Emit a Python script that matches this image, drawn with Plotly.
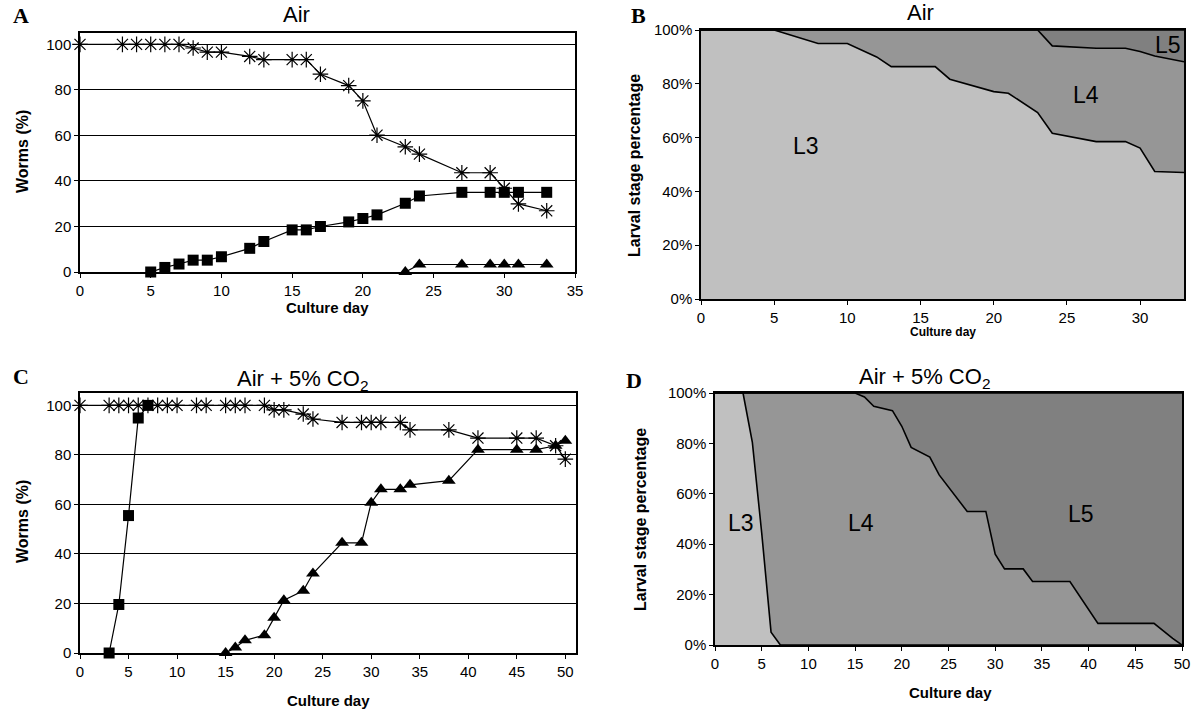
import plotly.graph_objects as go

W, H = 1197, 718

# ---------------- Panel A (Air) ----------------
a_days = [0, 3, 4, 5, 6, 7, 8, 9, 10, 12, 13, 15, 16, 17, 19, 20, 21, 23, 24, 27, 29, 30, 31, 33]
a_star = [100, 100, 100, 100, 100, 100, 98.4, 96.6, 96.6, 94.7, 93.3, 93.3, 93.3, 86.9, 81.9, 75.2,
          60.1, 55.0, 51.8, 43.6, 43.6, 36.8, 29.9, 26.9]
a_sq_days = [5, 6, 7, 8, 9, 10, 12, 13, 15, 16, 17, 19, 20, 21, 23, 24, 27, 29, 30, 31, 33]
a_sq = [0, 2, 3.5, 5.2, 5.2, 6.7, 10.4, 13.4, 18.5, 18.5, 20, 22, 23.5, 25.1, 30.2, 33.4, 35, 35, 35, 35, 35]
a_tri_days = [23, 24, 27, 29, 30, 31, 33]
a_tri = [0, 3.3, 3.3, 3.3, 3.3, 3.3, 3.3]

# ---------------- Panel B (Air, stacked %) ----------------
b_days = [0, 3, 4, 5, 6, 7, 8, 9, 10, 12, 13, 15, 16, 17, 19, 20, 21, 23, 24, 27, 29, 30, 31, 33]
b_l3 = [100, 100, 100, 100, 98.3, 96.7, 95, 95, 95, 90, 86.4, 86.4, 86.4, 81.7, 78.8, 77.1,
        76.5, 69.3, 61.6, 58.5, 58.5, 56.1, 47.4, 47.0]
b_l34 = [100, 100, 100, 100, 100, 100, 100, 100, 100, 100, 100, 100, 100, 100, 100, 100,
         100, 100, 94.1, 93.2, 93.2, 92.0, 90.3, 88.2]

# ---------------- Panel C (Air + 5% CO2) ----------------
c_star_days = [0, 3, 4, 5, 6, 7, 8, 9, 10, 12, 13, 15, 16, 17, 19, 20, 21, 23, 24, 27, 29, 30, 31,
               33, 34, 38, 41, 45, 47, 49, 50]
c_star = [100, 100, 100, 100, 100, 100, 100, 100, 100, 100, 100, 100, 100, 100, 100, 98.2, 98.2,
          96.5, 94.5, 93.1, 93.1, 93.1, 93.1, 93.1, 90.1, 90.1, 86.8, 86.8, 86.8, 83.7, 78.3]
c_sq_days = [3, 4, 5, 6, 7]
c_sq = [0, 19.6, 55.5, 94.9, 100]
c_tri_days = [15, 16, 17, 19, 20, 21, 23, 24, 27, 29, 30, 31, 33, 34, 38, 41, 45, 47, 49, 50]
c_tri = [0, 2.2, 5.1, 7.2, 14.2, 21.3, 25.1, 32.1, 44.5, 44.5, 60.7, 66.1, 66.1, 67.9, 69.6,
         82.1, 82.1, 82.1, 83.7, 85.7]

# ---------------- Panel D (Air + 5% CO2, stacked %) ----------------
d_days = [0, 3, 4, 5, 6, 7, 15, 16, 17, 19, 20, 21, 23, 24, 27, 29, 30, 31, 33, 34, 38, 41, 47, 49, 50]
d_l3 = [100, 100, 80.4, 44.5, 5.1, 0, 0, 0, 0, 0, 0, 0, 0, 0, 0, 0, 0, 0, 0, 0, 0, 0, 0, 0, 0]
d_l34 = [100, 100, 100, 100, 100, 100, 100, 98.4, 94.7, 93.0, 86.8, 78.4, 74.6, 67.5, 53, 53, 36,
         30.2, 30.2, 25.2, 25.2, 8.6, 8.6, 2.6, 0]

b_l4 = [u - l for u, l in zip(b_l34, b_l3)]
b_l5 = [100 - u for u in b_l34]
d_l4 = [u - l for u, l in zip(d_l34, d_l3)]
d_l5 = [100 - u for u in d_l34]

C_L3, C_L4, C_L5 = "#c0c0c0", "#969696", "#808080"
FONT = "Liberation Sans, Arial, sans-serif"
SERIF = "Liberation Serif, Times New Roman, serif"


def px_dom_x(a, b):
    return [a / W, b / W]


def px_dom_y(top, bottom):
    return [1 - bottom / H, 1 - top / H]


fig = go.Figure()


def add_line(x, y, symbol, size, xa, ya, lw=1.2):
    fig.add_trace(go.Scatter(
        x=x, y=y, mode="lines+markers", xaxis=xa, yaxis=ya, cliponaxis=False,
        line=dict(color="black", width=1.2),
        marker=dict(symbol=symbol, size=size, color="black",
                    line=dict(color="black", width=lw)),
        showlegend=False, hoverinfo="x+y"))


# Panel A
add_line(a_days, a_star, "asterisk-open", 13, "x", "y")
add_line(a_sq_days, a_sq, "square", 11, "x", "y", 0)
add_line(a_tri_days, a_tri, "triangle-up", 12, "x", "y", 0)

# Panel C
add_line(c_star_days, c_star, "asterisk-open", 13, "x3", "y3")
add_line(c_sq_days, c_sq, "square", 11, "x3", "y3", 0)
add_line(c_tri_days, c_tri, "triangle-up", 12, "x3", "y3", 0)


def add_stack(x, l3, l4, l5, xa, ya, grp):
    for vals, col, name in [(l3, C_L3, "L3"), (l4, C_L4, "L4"), (l5, C_L5, "L5")]:
        fig.add_trace(go.Scatter(
            x=x, y=vals, mode="lines", stackgroup=grp, xaxis=xa, yaxis=ya,
            fillcolor=col, line=dict(color="black", width=1.6),
            name=name, showlegend=False, hoverinfo="x+y"))


add_stack(b_days, b_l3, b_l4, b_l5, "x2", "y2", "b")
add_stack(d_days, d_l3, d_l4, d_l5, "x4", "y4", "d")

tickfont = dict(family=FONT, size=15, color="black")
axcommon = dict(showline=True, linecolor="black", linewidth=1.5, mirror=True,
                ticks="outside", ticklen=4, tickcolor="black", tickwidth=1,
                tickfont=tickfont, zeroline=False, automargin=False)

pct_vals = [0, 20, 40, 60, 80, 100]
pct_text = [f"{v}%" for v in pct_vals]

fig.update_layout(
    width=W, height=H, margin=dict(l=0, r=0, t=0, b=0, autoexpand=False),
    paper_bgcolor="white", plot_bgcolor="white",
    font=dict(family=FONT, color="black"),
    xaxis=dict(domain=px_dom_x(80, 575), range=[0, 35], tickvals=list(range(0, 36, 5)),
               showgrid=False, anchor="y", **axcommon),
    yaxis=dict(domain=px_dom_y(33, 272), range=[0, 105], tickvals=pct_vals,
               showgrid=True, gridcolor="black", gridwidth=1, anchor="x", **axcommon),
    xaxis2=dict(domain=px_dom_x(701, 1184), range=[0, 33], tickvals=list(range(0, 31, 5)),
                showgrid=False, anchor="y2", **axcommon),
    yaxis2=dict(domain=px_dom_y(30, 299), range=[0, 100], tickvals=pct_vals, ticktext=pct_text,
                showgrid=False, anchor="x2", **axcommon),
    xaxis3=dict(domain=px_dom_x(80, 576), range=[0, 51.1], tickvals=list(range(0, 51, 5)),
                showgrid=False, anchor="y3", **axcommon),
    yaxis3=dict(domain=px_dom_y(393, 653), range=[0, 105], tickvals=pct_vals,
                showgrid=True, gridcolor="black", gridwidth=1, anchor="x3", **axcommon),
    xaxis4=dict(domain=px_dom_x(715, 1182), range=[0, 50], tickvals=list(range(0, 51, 5)),
                showgrid=False, anchor="y4", **axcommon),
    yaxis4=dict(domain=px_dom_y(393, 645), range=[0, 100], tickvals=pct_vals, ticktext=pct_text,
                showgrid=False, anchor="x4", **axcommon),
)

ann = []


def paper_text(x, y, text, size, family=FONT, angle=0):
    ann.append(dict(x=x / W, y=1 - y / H, xref="paper", yref="paper", text=text,
                    showarrow=False, xanchor="center", yanchor="middle", textangle=angle,
                    font=dict(family=family, size=size, color="black")))


paper_text(21, 16, "<b>A</b>", 22, family=SERIF)
paper_text(638, 16, "<b>B</b>", 22, family=SERIF)
paper_text(21, 376, "<b>C</b>", 22, family=SERIF)
paper_text(634, 380, "<b>D</b>", 22, family=SERIF)

paper_text(296, 14, "Air", 22)
paper_text(920, 13, "Air", 22)
paper_text(302, 380, "Air + 5% CO<sub>2</sub>", 22)
paper_text(924, 378, "Air + 5% CO<sub>2</sub>", 22)

paper_text(327, 307, "<b>Culture day</b>", 15)
paper_text(943, 332, "<b>Culture day</b>", 12)
paper_text(328, 700, "<b>Culture day</b>", 15)
paper_text(950, 692, "<b>Culture day</b>", 15)

paper_text(22, 152, "<b>Worms (%)</b>", 16, angle=-90)
paper_text(634, 166, "<b>Larval stage percentage</b>", 16, angle=-90)
paper_text(22, 522, "<b>Worms (%)</b>", 16, angle=-90)
paper_text(640, 520, "<b>Larval stage percentage</b>", 16, angle=-90)


def data_text(x, y, text, xa, ya):
    ann.append(dict(x=x, y=y, xref=xa, yref=ya, text=text, showarrow=False,
                    font=dict(family=FONT, size=23, color="black")))


data_text(7.2, 57, "L3", "x2", "y2")
data_text(26.3, 76, "L4", "x2", "y2")
data_text(31.9, 94.4, "L5", "x2", "y2")
data_text(2.75, 48.6, "L3", "x4", "y4")
data_text(15.6, 48.6, "L4", "x4", "y4")
data_text(39.2, 52, "L5", "x4", "y4")

fig.update_layout(annotations=ann)

# remove the default page margin so the figure sits at the window's top-left corner
fig.write_html("out.html", config={"displayModeBar": False},
               post_script="document.body.style.margin='0px';document.body.style.overflow='hidden';")
